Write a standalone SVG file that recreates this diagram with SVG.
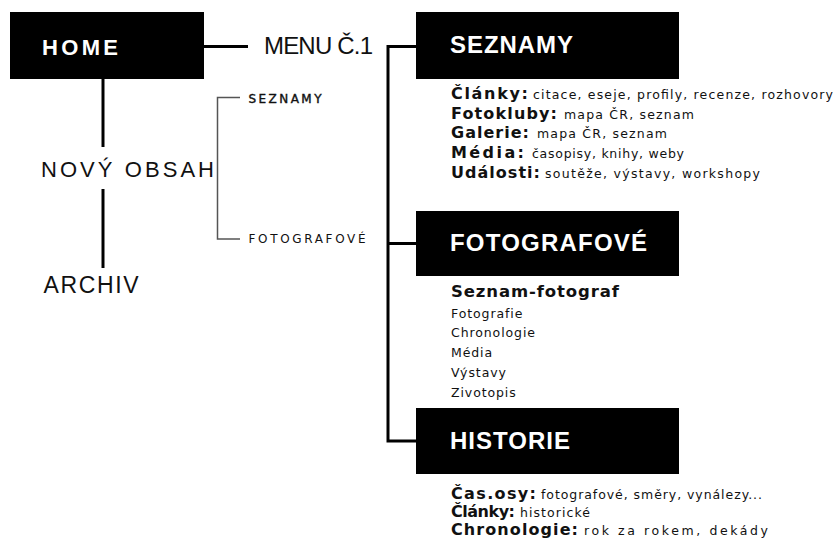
<svg xmlns="http://www.w3.org/2000/svg" width="835" height="538" viewBox="0 0 835 538">
  <style>
    text { font-family: "Liberation Sans", Arial, sans-serif; }
    .box { fill: #000; }
    .ttl { fill: #fff; font-weight: 700; font-size: 24px; }
    .big { fill: #111; font-size: 23px; }
    .sub { fill: #111; font-size: 12px; font-family: "DejaVu Sans", sans-serif; }
    .b { fill: #111; font-weight: 700; font-size: 16px; font-family: "DejaVu Sans", sans-serif; }
    .r { fill: #111; font-size: 12.5px; font-family: "DejaVu Sans", sans-serif; }
    .s { fill: #111; font-size: 12.5px; font-family: "DejaVu Sans", sans-serif; letter-spacing: 0.9px; }
    .con { fill: none; stroke: #000; stroke-width: 3; }
    .thin { fill: none; stroke: #555; stroke-width: 1.5; }
  </style>
  <rect width="835" height="538" fill="#fff"/>
  <g id="connectors">
    <line class="con" x1="204" y1="46.5" x2="248" y2="46.5"/>
    <line class="con" x1="103" y1="79" x2="103" y2="147"/>
    <line class="con" x1="103" y1="189" x2="103" y2="268"/>
    <path class="thin" d="M240,97.5 H217.5 V239 H240"/>
    <path class="con" d="M416,46.5 H388 V441 H416"/>
    <line class="con" x1="388" y1="243.5" x2="416" y2="243.5"/>
  </g>
  <g id="home">
    <rect class="box" x="10" y="12" width="194" height="67"/>
    <text class="ttl" x="42" y="55" style="font-size:22px" textLength="76">HOME</text>
  </g>
  <g id="menu">
    <text class="big" x="264" y="53.5" style="font-size:24px" textLength="109">MENU Č.1</text>
  </g>
  <g id="novy-obsah">
    <text class="big" x="41" y="176.7" style="font-size:22px" textLength="173">NOVÝ OBSAH</text>
  </g>
  <g id="archiv">
    <text class="big" x="43.5" y="292.7" textLength="95">ARCHIV</text>
  </g>
  <g id="sub-seznamy">
    <text class="sub" x="248.5" y="103" style="stroke:#111;stroke-width:0.4" textLength="73">SEZNAMY</text>
  </g>
  <g id="sub-fotografove">
    <text class="sub" x="248.5" y="242.7" textLength="117">FOTOGRAFOVÉ</text>
  </g>
  <g id="seznamy">
    <rect class="box" x="416" y="12" width="263" height="67"/>
    <text class="ttl" x="450" y="52.7" textLength="123">SEZNAMY</text>
    <text class="b" x="451" y="99" textLength="77">Články:</text>
    <text class="r" x="533" y="99" textLength="300">citace, eseje, profily, recenze, rozhovory</text>
    <text class="b" x="451" y="118.7" textLength="106">Fotokluby:</text>
    <text class="r" x="564" y="118.7" textLength="130">mapa ČR, seznam</text>
    <text class="b" x="451" y="138.2" textLength="78">Galerie:</text>
    <text class="r" x="537" y="138.2" textLength="130">mapa ČR, seznam</text>
    <text class="b" x="451" y="157.8" textLength="73">Média:</text>
    <text class="r" x="532" y="157.8" textLength="152">časopisy, knihy, weby</text>
    <text class="b" x="451" y="178" textLength="89">Události:</text>
    <text class="r" x="545" y="178" textLength="215">soutěže, výstavy, workshopy</text>
  </g>
  <g id="fotografove">
    <rect class="box" x="416" y="211" width="263" height="65"/>
    <text class="ttl" x="450" y="250.7" textLength="197">FOTOGRAFOVÉ</text>
    <text class="b" x="451" y="297" style="font-size:16.5px" textLength="168">Seznam-fotograf</text>
    <text class="s" x="451" y="317.5">Fotografie</text>
    <text class="s" x="451" y="337.3">Chronologie</text>
    <text class="s" x="451" y="357.2">Média</text>
    <text class="s" x="451" y="377">Výstavy</text>
    <text class="s" x="451" y="396.8">Zivotopis</text>
  </g>
  <g id="historie">
    <rect class="box" x="416" y="408" width="263" height="66"/>
    <text class="ttl" x="450" y="449" textLength="120">HISTORIE</text>
    <text class="b" x="451" y="498.5" textLength="85">Čas.osy:</text>
    <text class="r" x="541" y="498.5" textLength="221">fotografové, směry, vynálezy...</text>
    <text class="b" x="451" y="517" textLength="64">Články:</text>
    <text class="r" x="520" y="517" textLength="70">historické</text>
    <text class="b" x="451" y="534.5" textLength="127">Chronologie:</text>
    <text class="r" x="584" y="534.5" textLength="184">rok za rokem, dekády</text>
  </g>
</svg>
